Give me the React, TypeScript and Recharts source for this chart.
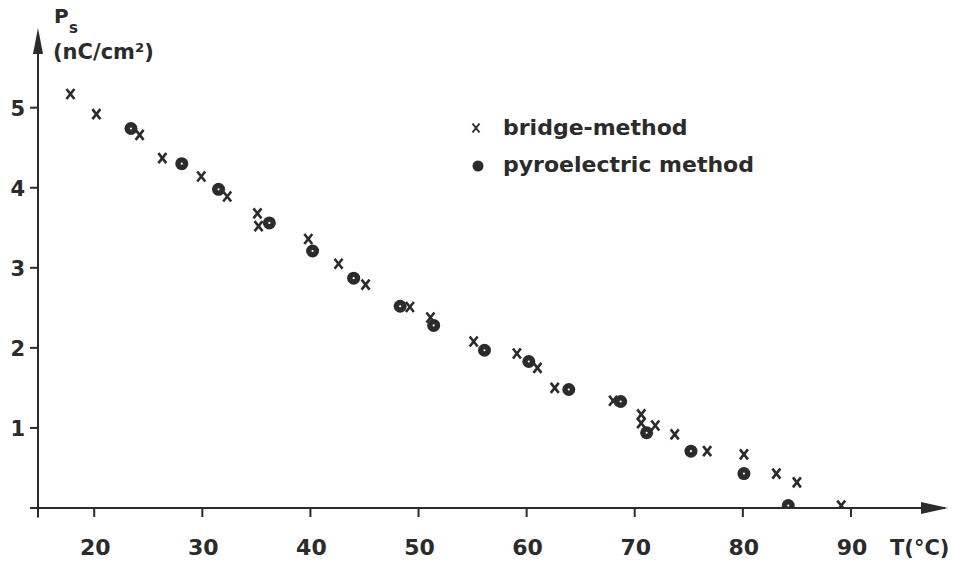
import React from 'react';
import { ScatterChart, Scatter, XAxis, YAxis, ReferenceLine, ReferenceDot, Legend } from 'recharts';

// values
const bridgeT = [17.8, 20.2, 24.2, 26.3, 29.9, 32.3, 35.1, 35.2, 39.8, 42.6, 45.1, 49.2, 51.1, 55.1, 59.1, 61.0, 62.6, 68.0, 70.6, 70.6, 71.9, 73.7, 76.7, 80.1, 83.1, 85.0, 89.1];
const bridgeP = [5.17, 4.92, 4.66, 4.37, 4.14, 3.89, 3.68, 3.52, 3.36, 3.05, 2.79, 2.51, 2.38, 2.08, 1.93, 1.75, 1.5, 1.34, 1.17, 1.06, 1.03, 0.92, 0.71, 0.67, 0.43, 0.32, 0.03];
const pyroT = [23.4, 28.1, 31.5, 36.2, 40.2, 44.0, 48.3, 51.4, 56.1, 60.2, 63.9, 68.7, 71.1, 75.2, 80.1, 84.2];
const pyroP = [4.74, 4.3, 3.98, 3.56, 3.21, 2.87, 2.52, 2.28, 1.97, 1.83, 1.48, 1.33, 0.94, 0.71, 0.43, 0.03];

const xTicks = [20, 30, 40, 50, 60, 70, 80, 90];
const yTicks = [1, 2, 3, 4, 5];

const bridgeData = bridgeT.map((t, i) => ({ t, p: bridgeP[i] }));
const pyroData = pyroT.map((t, i) => ({ t, p: pyroP[i] }));

const ink = '#2b2b2b';
const font = '"DejaVu Sans", sans-serif';

const Cross = ({ cx, cy }: any) => (
  <g stroke={ink} strokeWidth={2.6} strokeLinecap="butt">
    <line x1={cx - 4} y1={cy - 5} x2={cx + 4} y2={cy + 5} />
    <line x1={cx + 4} y1={cy - 5} x2={cx - 4} y2={cy + 5} />
  </g>
);

const Dot = ({ cx, cy }: any) => (
  <g>
    <circle cx={cx} cy={cy} r={6.5} fill={ink} />
    <circle cx={cx} cy={cy} r={1.1} fill="#fff" />
  </g>
);

const XTick = ({ x, y, payload }: any) => (
  <text x={x + 1} y={y + 38} textAnchor="middle" fontFamily={font} fontWeight="bold" fontSize={22} fill={ink}>
    {payload.value}
  </text>
);

const YTick = ({ x, y, payload }: any) => (
  <text x={x - 5} y={y + 8} textAnchor="end" fontFamily={font} fontWeight="bold" fontSize={21} fill={ink}>
    {payload.value}
  </text>
);

const XTitle = () => (
  <text x={890} y={555} fontFamily={font} fontWeight="bold" fontSize={21} fill={ink}>
    T(°C)
  </text>
);

const YTitle = () => (
  <g fontFamily={font} fontWeight="bold" fill={ink}>
    <text x={54} y={23} fontSize={20}>P</text>
    <text x={69} y={33} fontSize={15}>s</text>
    <text x={53} y={59} fontSize={21}>(nC/cm²)</text>
  </g>
);

const LegendBox = () => (
  <svg width={310} height={70}>
    <g stroke={ink} strokeWidth={2}>
      <line x1={12.5} y1={13.5} x2={19.5} y2={22.5} />
      <line x1={19.5} y1={13.5} x2={12.5} y2={22.5} />
    </g>
    <circle cx={18} cy={56} r={5.5} fill={ink} />
    <g fontFamily={font} fontWeight="bold" fontSize={22} fill={ink}>
      <text x={43} y={25}>bridge-method</text>
      <text x={43} y={61.5}>pyroelectric method</text>
    </g>
  </svg>
);

const RightArrow = ({ cx, cy }: any) => (
  <polygon points={`${cx + 3},${cy} ${cx - 24},${cy - 6} ${cx - 24},${cy + 6}`} fill={ink} />
);

const UpArrow = ({ cx, cy }: any) => (
  <polygon points={`${cx},${cy - 2} ${cx - 5},${cy + 24} ${cx + 5},${cy + 24}`} fill={ink} />
);

export default function App() {
  return (
    <div style={{ position: 'absolute', left: 0, top: 0, width: 953, height: 563, background: '#fff' }}>
      <ScatterChart width={953} height={563} margin={{ top: 30, right: 8, bottom: 0, left: 0 }}>
        <XAxis
          type="number"
          dataKey="t"
          domain={[14.8, 98.7]}
          allowDataOverflow
          ticks={xTicks}
          height={55}
          axisLine={false}
          tickSize={9}
          tickMargin={0}
          tickLine={{ stroke: ink, strokeWidth: 2 }}
          tick={<XTick />}
          label={<XTitle />}
        />
        <YAxis
          type="number"
          dataKey="p"
          domain={[0, 5.97]}
          allowDataOverflow
          ticks={yTicks}
          width={38}
          axisLine={false}
          tickSize={8}
          tickMargin={0}
          tickLine={{ stroke: ink, strokeWidth: 2 }}
          tick={<YTick />}
          label={<YTitle />}
        />
        <ReferenceLine
          segment={[{ x: 14.06, y: 0 }, { x: 98.7, y: 0 }]}
          stroke={ink}
          strokeWidth={2}
          ifOverflow="visible"
        />
        <ReferenceLine
          segment={[{ x: 14.8, y: -0.12 }, { x: 14.8, y: 5.9 }]}
          stroke={ink}
          strokeWidth={2}
          ifOverflow="visible"
        />
        <ReferenceDot x={98.7} y={0} ifOverflow="visible" shape={<RightArrow />} />
        <ReferenceDot x={14.8} y={5.97} ifOverflow="visible" shape={<UpArrow />} />
        <Legend
          layout="vertical"
          align="center"
          verticalAlign="middle"
          wrapperStyle={{ left: 460, top: 110, width: 310, height: 70 }}
          content={<LegendBox />}
        />
        <Scatter name="bridge-method" data={bridgeData} shape={<Cross />} isAnimationActive={false} />
        <Scatter name="pyroelectric method" data={pyroData} shape={<Dot />} isAnimationActive={false} />
      </ScatterChart>
    </div>
  );
}
